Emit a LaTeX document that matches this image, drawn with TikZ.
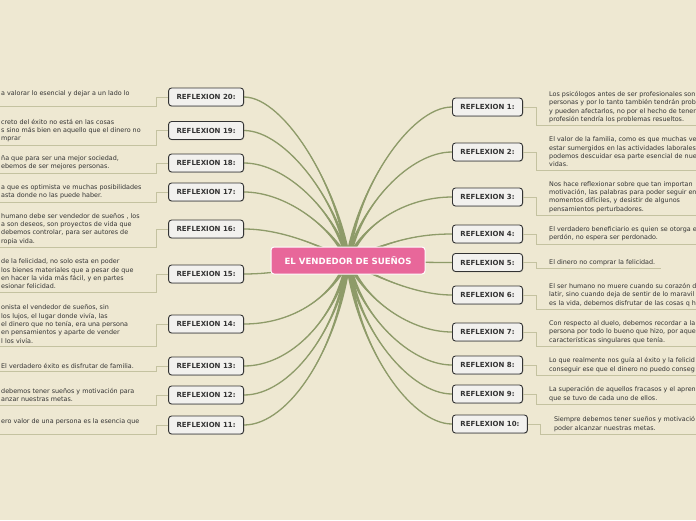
\documentclass[tikz,border=0pt]{standalone}
\usepackage{fontspec}
\setmainfont{DejaVu Sans}
\usetikzlibrary{positioning,calc,backgrounds,shadows}

\definecolor{paper}{HTML}{EEE8D2}
\definecolor{stemgreen}{HTML}{8E9B69}
\definecolor{twiggrey}{HTML}{C4C2A0}
\definecolor{rose}{HTML}{E8679A}
\definecolor{card}{HTML}{F2F1EE}
\definecolor{ink}{HTML}{333333}

\tikzset{
  hubbox/.style={draw=white, line width=1pt, fill=rose, rounded corners=3pt, text=white,
    font=\bfseries\fontsize{8.6}{10}\selectfont, minimum width=154pt, minimum height=27pt, inner sep=0pt},
  refl/.style={draw=ink, line width=0.9pt, fill=card, rounded corners=3pt, text=ink,
    font=\bfseries\fontsize{7}{8}\selectfont, minimum height=18pt, inner xsep=8pt, inner ysep=0pt,
    drop shadow={shadow xshift=0.5pt, shadow yshift=-0.8pt, opacity=0.3}},
  note/.style={align=left, font=\fontsize{6.4}{8.3}\selectfont, text=ink, inner xsep=6pt, inner ysep=3pt},
  leaf/.style={draw=twiggrey, line width=0.8pt},
  stem/.style={draw=stemgreen, line width=1.3pt},
}

% tapered branch from the hub: target, first and second control point
\newcommand\branch[3]{%
  \fill[stemgreen] ($(hub.center)!2.6pt!90:(#2)$) .. controls (#2) and (#3) .. (#1)
    .. controls (#3) and (#2) .. ($(hub.center)!2.6pt!-90:(#2)$) -- cycle;
  \draw[stem] (hub.center) .. controls (#2) and (#3) .. (#1);}

\begin{document}
\begin{tikzpicture}[x=1pt, y=-1pt]
  \useasboundingbox (0,0) rectangle (696,520);
  \coordinate (lm) at (-5,0);

  \node[hubbox] (hub) at (348,260.5) {EL VENDEDOR DE SUEÑOS};

  % right side
  \node[refl, anchor=west] (r1) at (452,107) {REFLEXION 1:};
  \node[refl, anchor=west] (r2) at (452,152) {REFLEXION 2:};
  \node[refl, anchor=west] (r3) at (452,197) {REFLEXION 3:};
  \node[refl, anchor=west] (r4) at (452,234) {REFLEXION 4:};
  \node[refl, anchor=west] (r5) at (452,262.5) {REFLEXION 5:};
  \node[refl, anchor=west] (r6) at (452,295) {REFLEXION 6:};
  \node[refl, anchor=west] (r7) at (452,332) {REFLEXION 7:};
  \node[refl, anchor=west] (r8) at (452,365) {REFLEXION 8:};
  \node[refl, anchor=west] (r9) at (452,394) {REFLEXION 9:};
  \node[refl, anchor=west] (r10) at (452,424) {REFLEXION 10:};

  % left side
  \node[refl, anchor=east] (l20) at (244,97) {REFLEXION 20:};
  \node[refl, anchor=east] (l19) at (244,130.5) {REFLEXION 19:};
  \node[refl, anchor=east] (l18) at (244,163) {REFLEXION 18:};
  \node[refl, anchor=east] (l17) at (244,192) {REFLEXION 17:};
  \node[refl, anchor=east] (l16) at (244,229) {REFLEXION 16:};
  \node[refl, anchor=east] (l15) at (244,274) {REFLEXION 15:};
  \node[refl, anchor=east] (l14) at (244,324) {REFLEXION 14:};
  \node[refl, anchor=east] (l13) at (244,366) {REFLEXION 13:};
  \node[refl, anchor=east] (l12) at (244,395) {REFLEXION 12:};
  \node[refl, anchor=east] (l11) at (244,425) {REFLEXION 11:};

  % notes
  \node[note, right=20pt of r1] (n1) {Los psicólogos antes de ser profesionales son\\personas y por lo tanto también tendrán prob\\y pueden afectarlos, no por el hecho de tener\\profesión tendría los problemas resueltos.};
  \node[note, right=20pt of r2] (n2) {El valor de la familia, como es que muchas ve\\estar sumergidos en las actividades laborales\\podemos descuidar esa parte esencial de nue\\vidas.};
  \node[note, right=20pt of r3] (n3) {Nos hace reflexionar sobre que tan  importan\\motivación, las palabras para poder seguir en\\momentos difíciles, y desistir de algunos\\pensamientos perturbadores.};
  \node[note, right=20pt of r4] (n4) {El verdadero beneficiario es quien se otorga e\\perdón, no espera ser perdonado.};
  \node[note, right=20pt of r5] (n5) {El dinero no comprar la felicidad.};
  \node[note, right=20pt of r6] (n6) {El ser humano no muere cuando su corazón d\\latir, sino cuando deja de sentir de lo maravil\\es la vida, debemos disfrutar de las cosas q h};
  \node[note, right=20pt of r7] (n7) {Con respecto al duelo, debemos recordar a la\\persona por todo lo bueno que hizo, por aque\\características singulares que tenía.};
  \node[note, right=20pt of r8] (n8) {Lo que realmente nos guía al éxito y la felicid\\conseguir ese que el dinero no puedo conseg};
  \node[note, right=20pt of r9] (n9) {La superación de aquellos fracasos y el apren\\que se tuvo de cada uno de ellos.};
  \node[note, right=20pt of r10] (n10) {Siempre debemos tener sueños y motivació\\poder alcanzar nuestras metas.};

  \node[note, anchor=west] (n20) at (l20 -| lm) {a valorar lo esencial y dejar a un lado lo\\~};
  \node[note, anchor=west] (n19) at (l19 -| lm) {creto del éxito no está en las cosas\\s sino más bien en aquello que el dinero no\\mprar};
  \node[note, anchor=west] (n18) at (l18 -| lm) {ña que para ser una mejor sociedad,\\ebemos de ser mejores personas.};
  \node[note, anchor=west] (n17) at (l17 -| lm) {a que es optimista ve muchas posibilidades\\asta donde no las puede haber.};
  \node[note, anchor=west] (n16) at (l16 -| lm) {humano debe ser vendedor de sueños , los\\a son deseos,  son proyectos de vida que\\debemos controlar, para ser autores de\\ropia vida.};
  \node[note, anchor=west] (n15) at (l15 -| lm) {de la felicidad, no solo esta en poder\\ los bienes materiales que a pesar de que\\en hacer la vida más fácil, y en partes\\esionar felicidad.};
  \node[note, anchor=west] (n14) at (l14 -| lm) {onista el vendedor de sueños, sin\\los lujos, el lugar donde vivía, las\\el dinero que no tenía, era una persona\\en pensamientos  y aparte de vender\\l los vivía.};
  \node[note, anchor=west] (n13) at (l13 -| lm) {El verdadero éxito es disfrutar de familia.};
  \node[note, anchor=west] (n12) at (l12 -| lm) {debemos tener sueños y motivación para\\anzar nuestras metas.};
  \node[note, anchor=west] (n11) at (l11 -| lm) {ero valor de una persona es la esencia que\\~};

  % brackets under the notes
  \foreach \i in {1,...,10}
    \draw[leaf] (r\i.east) -- ++(13pt,0) |- (n\i.south east);
  \foreach \i in {11,...,20}
    \draw[leaf] (l\i.west) -- ++(-12pt,0) |- (n\i.south west);

  \begin{pgfonlayer}{background}
    \fill[paper] (0,0) rectangle (696,520);
    \branch{r1.west}{356,190}{410,107}
    \branch{r2.west}{360,205}{410,152}
    \branch{r3.west}{365,220}{410,197}
    \branch{r4.west}{390,240}{420,234}
    \branch{r5.west}{400,262}{430,262.5}
    \branch{r6.west}{380,280}{420,295}
    \branch{r7.west}{365,300}{410,332}
    \branch{r8.west}{360,315}{410,365}
    \branch{r9.west}{358,330}{410,394}
    \branch{r10.west}{356,345}{410,424}
    \branch{l20.east}{340,190}{285,97}
    \branch{l19.east}{338,200}{285,130.5}
    \branch{l18.east}{335,210}{285,163}
    \branch{l17.east}{330,225}{285,192}
    \branch{l16.east}{320,245}{280,229}
    \branch{l15.east}{300,268}{275,274}
    \branch{l14.east}{330,300}{290,324}
    \branch{l13.east}{335,320}{290,366}
    \branch{l12.east}{338,330}{290,395}
    \branch{l11.east}{340,345}{290,425}
  \end{pgfonlayer}
\end{tikzpicture}
\end{document}
